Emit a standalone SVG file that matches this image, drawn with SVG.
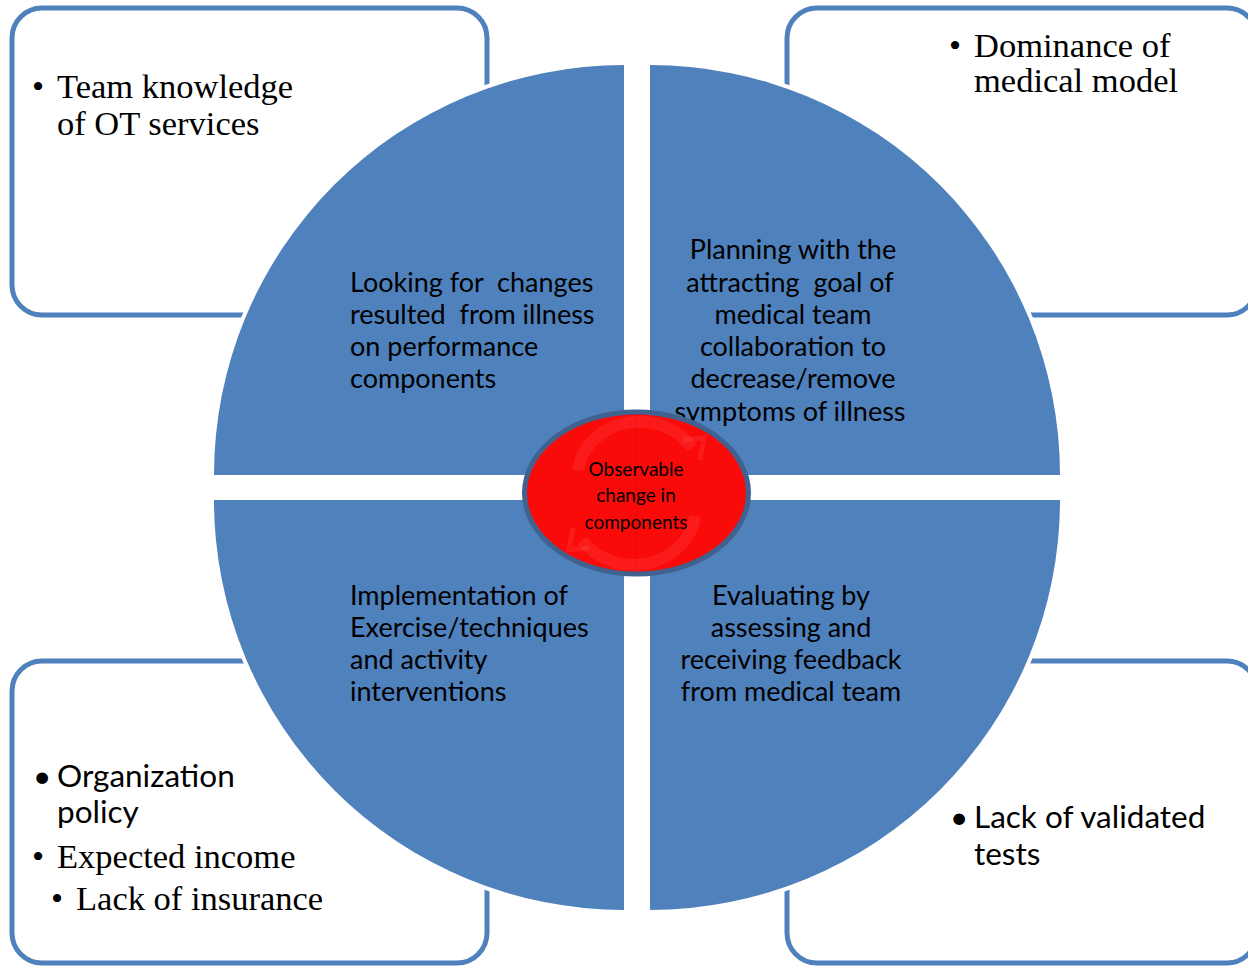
<svg xmlns="http://www.w3.org/2000/svg" width="1248" height="967" viewBox="0 0 1248 967">
<style>
.box{fill:#fff;stroke:#4f81bd;stroke-width:5}
.q{fill:#4f81bd;stroke:#fff;stroke-width:8;paint-order:stroke}
.qt{font-family:Lato,"Open Sans",sans-serif;font-size:27px;fill:#000;white-space:pre}
.serif{font-family:"Liberation Serif","Times New Roman",serif;font-size:34.5px;fill:#000}
.sans{font-family:Lato,"Open Sans",sans-serif;font-size:31.5px;fill:#000}
.ct{font-family:Lato,"Open Sans",sans-serif;font-size:19px;fill:#000;text-anchor:middle}
.faint{fill:none;stroke:#fff;stroke-opacity:0.07;stroke-width:12}
</style>
<rect width="1248" height="967" fill="#fff"/>
<g id="box-tl">
<rect class="box" x="12" y="8" width="475" height="307" rx="30"/>
<text class="serif" x="32" y="98">•</text>
<text class="serif" x="57" y="98">Team knowledge</text>
<text class="serif" x="57" y="135">of OT services</text>
</g>
<g id="box-tr">
<rect class="box" x="787" y="8" width="470" height="307" rx="30"/>
<text class="serif" x="949" y="57">•</text>
<text class="serif" x="974" y="57">Dominance of</text>
<text class="serif" x="974" y="92">medical model</text>
</g>
<g id="box-bl">
<rect class="box" x="12" y="661" width="475" height="302" rx="30"/>
<text class="sans" x="33" y="787">•</text>
<text class="sans" x="57" y="787">Organization</text>
<text class="sans" x="57" y="823">policy</text>
<text class="serif" x="32" y="868">•</text>
<text class="serif" x="57" y="868">Expected income</text>
<text class="serif" x="51" y="910">•</text>
<text class="serif" x="76" y="910">Lack of insurance</text>
</g>
<g id="box-br">
<rect class="box" x="787" y="661" width="470" height="302" rx="30"/>
<text class="sans" x="950" y="828">•</text>
<text class="sans" x="974" y="828">Lack of validated</text>
<text class="sans" x="974" y="865">tests</text>
</g>
<g id="quad-tl">
<path class="q" d="M624,475 L214,475 A410,410 0 0 1 624,65 Z"/>
<text class="qt" x="350" y="292">Looking for  changes</text>
<text class="qt" x="350" y="324">resulted  from illness</text>
<text class="qt" x="350" y="356">on performance</text>
<text class="qt" x="350" y="388">components</text>
</g>
<g id="quad-tr">
<path class="q" d="M650,475 L650,65 A410,410 0 0 1 1060,475 Z"/>
<g text-anchor="middle">
<text class="qt" x="793" y="259">Planning with the</text>
<text class="qt" x="790" y="292">attracting  goal of</text>
<text class="qt" x="793" y="324">medical team</text>
<text class="qt" x="793" y="356">collaboration to</text>
<text class="qt" x="793" y="388">decrease/remove</text>
<text class="qt" x="790" y="421">symptoms of illness</text>
</g>
</g>
<g id="quad-bl">
<path class="q" d="M624,500 L624,910 A410,410 0 0 1 214,500 Z"/>
<text class="qt" x="350" y="605">Implementation of</text>
<text class="qt" x="350" y="637">Exercise/techniques</text>
<text class="qt" x="350" y="669">and activity</text>
<text class="qt" x="350" y="701">interventions</text>
</g>
<g id="quad-br">
<path class="q" d="M650,500 L1060,500 A410,410 0 0 1 650,910 Z"/>
<g text-anchor="middle">
<text class="qt" x="791" y="605">Evaluating by</text>
<text class="qt" x="791" y="637">assessing and</text>
<text class="qt" x="791" y="669">receiving feedback</text>
<text class="qt" x="791" y="701">from medical team</text>
</g>
</g>
<g id="center">
<ellipse cx="636.5" cy="493" rx="112" ry="81" fill="#fb0a0a" stroke="#41628f" stroke-width="5"/>
<path class="faint" d="M578,470 A62,56 0 0 1 692,448"/>
<path class="faint" d="M695,516 A62,56 0 0 1 582,540"/>
<path d="M683,440 L704,438 L700,460" fill="none" stroke="#fff" stroke-opacity="0.07" stroke-width="5"/>
<path d="M590,548 L569,550 L573,528" fill="none" stroke="#fff" stroke-opacity="0.07" stroke-width="5"/>
<line x1="636" y1="418" x2="636" y2="568" stroke="#000" stroke-opacity="0.03" stroke-width="2"/>
<line x1="528" y1="488" x2="745" y2="488" stroke="#000" stroke-opacity="0.03" stroke-width="2"/>
<text class="ct" x="636" y="476">Observable</text>
<text class="ct" x="636" y="502">change in</text>
<text class="ct" x="636" y="529">components</text>
</g>
</svg>
